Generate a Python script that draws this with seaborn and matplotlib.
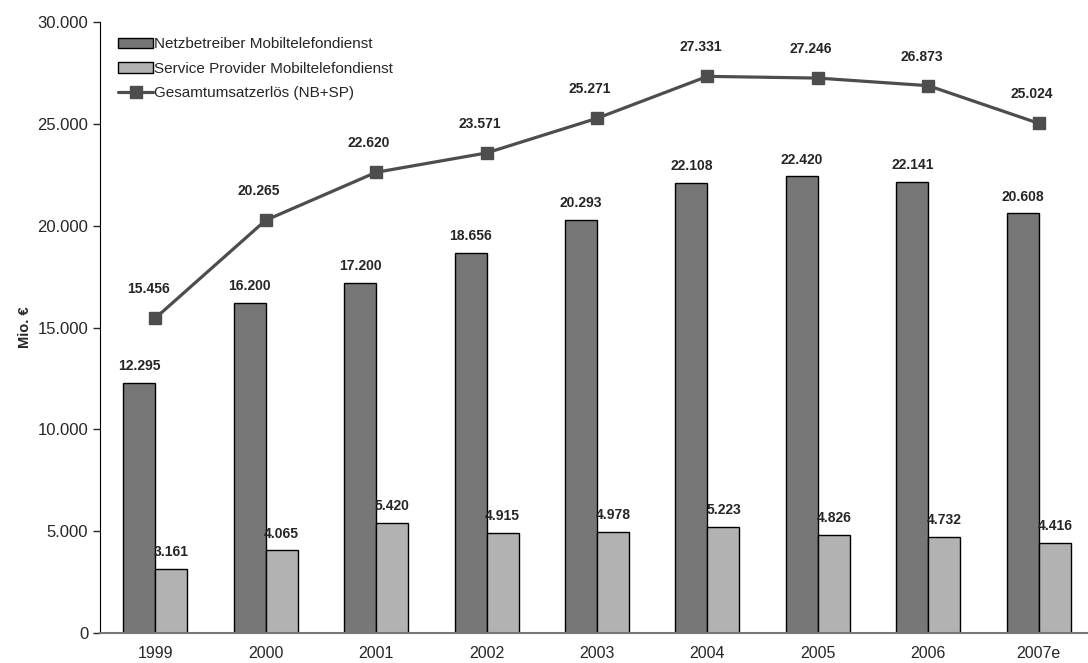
import pandas as pd
import numpy as np
import matplotlib.pyplot as plt
import seaborn as sns

# Data
years = ["1999", "2000", "2001", "2002", "2003", "2004", "2005", "2006", "2007e"]
netzbetreiber = [12295, 16200, 17200, 18656, 20293, 22108, 22420, 22141, 20608]
service_provider = [3161, 4065, 5420, 4915, 4978, 5223, 4826, 4732, 4416]
gesamt = [15456, 20265, 22620, 23571, 25271, 27331, 27246, 26873, 25024]

nb_label = "Netzbetreiber Mobiltelefondienst"
sp_label = "Service Provider Mobiltelefondienst"
line_label = "Gesamtumsatzerlös (NB+SP)"


def de_fmt(v):
    return f"{v:,.0f}".replace(",", ".")


sns.set_style("white")
plt.rcParams["font.family"] = ["Liberation Sans", "DejaVu Sans"]

df = pd.DataFrame({
    "Jahr": years * 2,
    "Wert": netzbetreiber + service_provider,
    "Serie": [nb_label] * len(years) + [sp_label] * len(years),
})

fig = plt.figure(figsize=(10.88, 6.63), dpi=100)
ax = fig.add_axes([100 / 1088, 30 / 663, 994 / 1088, 611 / 663])

sns.barplot(data=df, x="Jahr", y="Wert", hue="Serie", order=years,
            palette=["#777777", "#b2b2b2"], width=0.58, edgecolor="black",
            linewidth=1.0, saturation=1, ax=ax)

x = np.arange(len(years))
ax.plot(x, gesamt, color="#4d4d4d", linewidth=2.3, marker="s", markersize=9,
        markerfacecolor="#4d4d4d", markeredgecolor="#4d4d4d", label=line_label)

# value labels
for c in ax.containers:
    for bar in c:
        h = bar.get_height()
        ax.annotate(de_fmt(h), (bar.get_x() + bar.get_width() / 2, h),
                    xytext=(0, 12), textcoords="offset points",
                    ha="center", va="center", fontsize=10, fontweight="bold")
for xi, v in zip(x, gesamt):
    ax.annotate(de_fmt(v), (xi, v), xytext=(-5, 21), textcoords="offset points",
                ha="center", va="center", fontsize=10, fontweight="bold")

ax.set_ylim(0, 30000)
ax.set_xlim(-0.5, len(years) - 0.5)
ax.set_yticks(range(0, 30001, 5000))
ax.set_yticklabels([de_fmt(v) for v in range(0, 30001, 5000)], fontsize=12)
ax.set_xticks(x)
ax.set_xticklabels(years, fontsize=11.5)
ax.set_xticks(np.arange(-0.5, len(years), 1), minor=True)
ax.tick_params(axis="x", which="major", length=0, pad=9)
ax.tick_params(axis="x", which="minor", length=5, width=1, color="#555555",
               direction="out")
ax.tick_params(axis="y", length=5, width=1, direction="out", left=True)
ax.set_xlabel("")
ax.set_ylabel("Mio. €", fontsize=10.5, fontweight="bold", labelpad=4)

for s in ["top", "right"]:
    ax.spines[s].set_visible(False)
ax.spines["left"].set_color("black")
ax.spines["bottom"].set_color("#777777")
ax.spines["bottom"].set_linewidth(1.5)

handles, labels = ax.get_legend_handles_labels()
ax.legend(handles, labels, loc="upper left", bbox_to_anchor=(0.012, 0.985),
          frameon=False, fontsize=11, handlelength=2.3, handletextpad=0.05,
          labelspacing=0.68, borderaxespad=0)

fig.savefig("out.png", dpi=100)
